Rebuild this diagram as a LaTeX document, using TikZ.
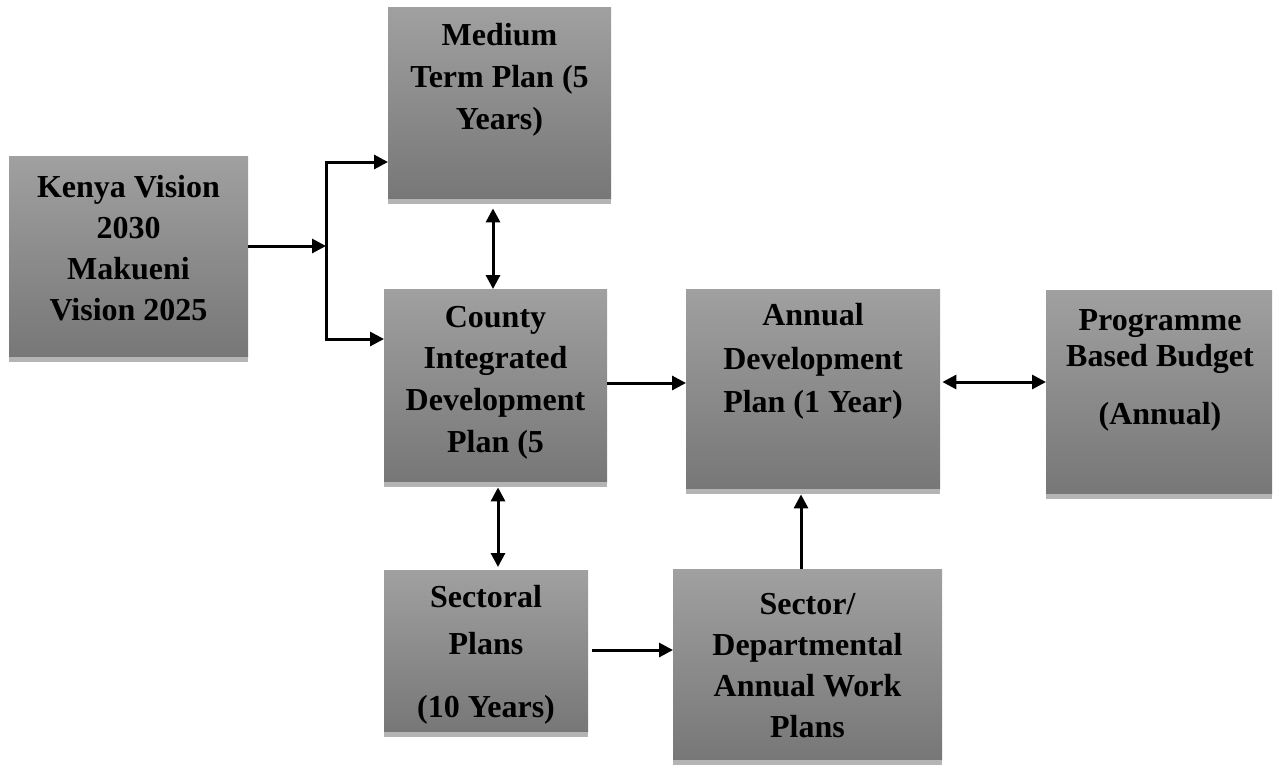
\documentclass[tikz,border=0pt]{standalone}
\usepackage{fontspec}
\setmainfont{Liberation Serif}
\usetikzlibrary{arrows.meta}
\definecolor{gtop}{HTML}{A0A0A0}
\definecolor{gbot}{HTML}{777777}
\definecolor{gshadow}{HTML}{B4B4B4}
\tikzset{
  boxnode/.style={rectangle, inner sep=0pt, draw=none, top color=gtop, bottom color=gbot, anchor=north west},
  txt/.style={align=center, inner sep=0pt, font=\bfseries\fontsize{32}{41}\selectfont},
  conn/.style={line width=3pt, line join=miter},
  arr/.style={conn, -{Triangle[length=14pt,width=14pt]}},
  dblarr/.style={conn, {Triangle[length=14pt,width=14pt]}-{Triangle[length=14pt,width=14pt]}}
}
\begin{document}
\begin{tikzpicture}[x=1pt,y=-1pt]
\useasboundingbox (0,0) rectangle (1276,772);
% boxes
\node[boxnode, minimum width=239pt, minimum height=201pt] (kenya) at (9,156) {};
\node[boxnode, minimum width=223pt, minimum height=192pt] (medium) at (388,7) {};
\node[boxnode, minimum width=223pt, minimum height=193pt] (county) at (384,289) {};
\node[boxnode, minimum width=254pt, minimum height=200pt] (annual) at (686,289) {};
\node[boxnode, minimum width=226pt, minimum height=204pt] (budget) at (1046,290) {};
\node[boxnode, minimum width=204pt, minimum height=162pt] (sectoral) at (384,570) {};
\node[boxnode, minimum width=269pt, minimum height=191pt] (sector) at (673,569) {};
% shadows
\foreach \b in {kenya,medium,county,annual,budget,sectoral,sector}{
  \fill[gshadow] (\b.south west) rectangle ([yshift=-5pt]\b.south east);
}
% texts
\node[txt] (tkenya) at (128.5,248.5) {Kenya Vision\\2030\\Makueni\\Vision 2025};
\node[txt, font=\bfseries\fontsize{32}{42}\selectfont] (tmedium) at (499.5,80) {Medium\\Term Plan (5\\Years)};
\node[txt, font=\bfseries\fontsize{32}{41.7}\selectfont] (tcounty) at (495.5,382.5) {County\\Integrated\\Development\\Plan (5};
\node[txt, font=\bfseries\fontsize{32}{43.5}\selectfont] (tannual) at (813,361.5) {Annual\\Development\\Plan (1 Year)};
\node[txt, font=\bfseries\fontsize{32}{36}\selectfont] (tbudget) at (1160,370) {Programme\\Based Budget\\[22pt](Annual)};
\node[txt, font=\bfseries\fontsize{32}{47}\selectfont] (tsectoral) at (486,655) {Sectoral\\Plans\\[16pt](10 Years)};
\node[txt] (tsector) at (807.5,665.5) {Sector/\\Departmental\\Annual Work\\Plans};
% connectors
\coordinate (j) at (326,246);
\coordinate (jt) at (326,162);
\coordinate (jb) at (326,339);
\draw[arr] (kenya.east |- j) -- (j);
\draw[dblarr] (medium.west |- jt) -- (jt) -- (jb) -- (county.west |- jb);
\draw[dblarr] ([yshift=-9pt]medium.south -| 493,0) -- (county.north -| 493,0);
\draw[dblarr] ([yshift=-5pt]county.south -| 498,0) -- ([yshift=3pt]sectoral.north -| 498,0);
\draw[arr] (county.east |- 0,383) -- (annual.west |- 0,383);
\draw[dblarr] ([xshift=2pt]annual.east |- 0,382) -- (budget.west |- 0,382);
\draw[arr] ([xshift=4pt]sectoral.east |- 0,650) -- (sector.west |- 0,650);
\draw[arr] (sector.north -| 801,0) -- ([yshift=-5pt]annual.south -| 801,0);
\end{tikzpicture}
\end{document}
